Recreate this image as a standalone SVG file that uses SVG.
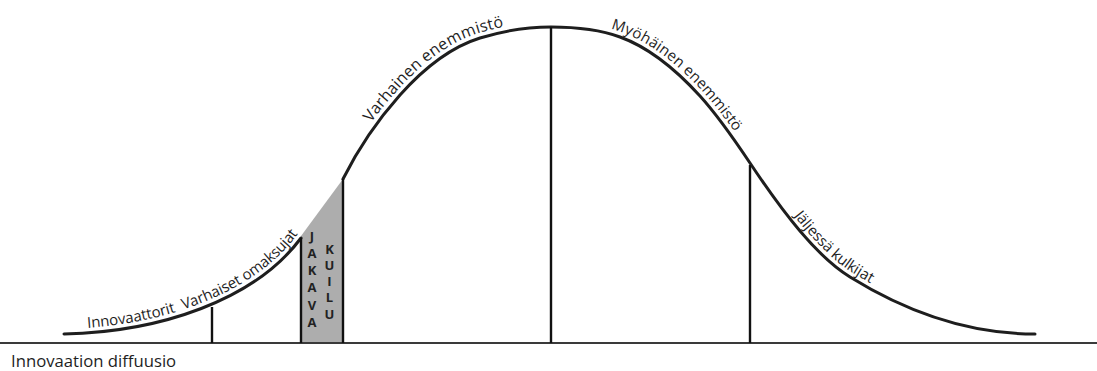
<svg xmlns="http://www.w3.org/2000/svg" width="1097" height="371" viewBox="0 0 1097 371">
<style>
.curve{fill:none;stroke:#1e1e1e;stroke-width:3;stroke-linecap:round}
.div{stroke:#111;stroke-width:2.4;fill:none}
.lbl{font-family:"Open Sans","Liberation Sans",sans-serif;font-size:15px;fill:#1e1e1e}
.gap{font-family:"Open Sans","Liberation Sans",sans-serif;font-size:13px;font-weight:700;fill:#222;text-anchor:middle}
</style>
<defs>
<path id="leftCurve" d="M64,334 C160,332 255,300 301,238"/>
<path id="rightCurve" d="M343,179 C362,141 381,116.3 400,95 C426.7,65.1 453.3,46.3 480,38 C503.7,30.7 527.3,27 551,27 C574,27 597,28.5 620,37 C646.7,46.6 673.3,66.7 700,96 C716.7,114.4 733.3,138 750,163 C783.3,213 816.7,256.4 850,277 C911.7,315.2 973.3,334 1035,334"/>
</defs>
<rect width="1097" height="371" fill="#ffffff"/>
<g id="chasm">
<polygon points="301,343 301,236 343,179 343,343" fill="#adadad"/>
</g>
<g id="axis">
<line x1="0" y1="343" x2="1097" y2="343" stroke="#3a3a3a" stroke-width="2"/>
</g>
<g id="connectors">
<use href="#leftCurve" class="curve"/>
<use href="#rightCurve" class="curve"/>
<line class="div" x1="212" y1="343" x2="212" y2="307"/>
<line class="div" x1="301" y1="343" x2="301" y2="238"/>
<line class="div" x1="343" y1="343" x2="343" y2="179"/>
<line class="div" x1="551" y1="343" x2="551" y2="27"/>
<line class="div" x1="750" y1="343" x2="750" y2="165"/>
</g>
<g id="innovators">
<text class="lbl" dy="-5"><textPath href="#leftCurve" startOffset="24">Innovaattorit</textPath></text>
</g>
<g id="early-adopters">
<text class="lbl" dy="-5"><textPath href="#leftCurve" startOffset="123">Varhaiset omaksujat</textPath></text>
</g>
<g id="early-majority">
<text class="lbl" dy="-5" style="font-size:16px"><textPath href="#rightCurve" startOffset="62">Varhainen enemmistö</textPath></text>
</g>
<g id="late-majority">
<text class="lbl" dy="-5"><textPath href="#rightCurve" startOffset="332">Myöhäinen enemmistö</textPath></text>
</g>
<g id="laggards">
<text class="lbl" dy="-5"><textPath href="#rightCurve" startOffset="596">Jäljessä kulkijat</textPath></text>
</g>
<g id="jakava">
<text class="gap" x="312" y="241">J</text>
<text class="gap" x="312" y="258">A</text>
<text class="gap" x="312" y="275">K</text>
<text class="gap" x="312" y="292">A</text>
<text class="gap" x="312" y="310">V</text>
<text class="gap" x="312" y="327">A</text>
</g>
<g id="kuilu">
<text class="gap" x="329.5" y="253.5">K</text>
<text class="gap" x="329.5" y="270">U</text>
<text class="gap" x="329.5" y="286">I</text>
<text class="gap" x="329.5" y="302">L</text>
<text class="gap" x="329.5" y="318.5">U</text>
</g>
<g id="title">
<text class="lbl" x="11" y="367" style="font-size:16.7px">Innovaation diffuusio</text>
</g>
</svg>
